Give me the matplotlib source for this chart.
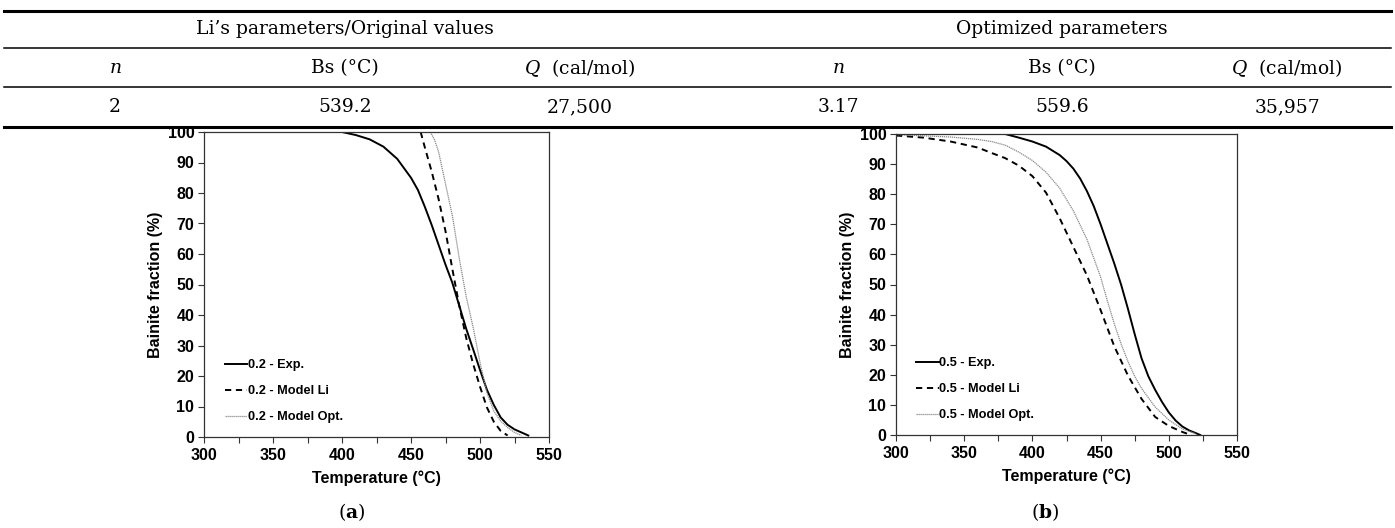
import matplotlib
matplotlib.use("Agg")
import matplotlib.pyplot as plt
from matplotlib.lines import Line2D

serif = "DejaVu Serif"
sans = "Liberation Sans"
plt.rcParams["mathtext.fontset"] = "custom"
plt.rcParams["mathtext.rm"] = serif
plt.rcParams["mathtext.it"] = serif + ":italic"
plt.rcParams["mathtext.bf"] = serif + ":bold"

# table values
col_heads = ["$n$", "Bs (°C)", "$Q$  (cal/mol)"]
li_vals = ["2", "539.2", "27,500"]
opt_vals = ["3.17", "559.6", "35,957"]

# (a) cooling rate 0.2
a_exp_T = [400, 410, 420, 430, 440, 450, 455, 460, 465, 470, 475, 480, 485, 490, 495, 500, 505, 510, 515, 520, 525, 530, 535]
a_exp_y = [100, 99, 97.6, 95.2, 91.2, 85, 81, 75.5, 69.5, 63, 56.5, 50.5, 43, 35.5, 28.8, 22, 15.5, 10.5, 6.4, 4, 2.5, 1.5, 0.5]
a_li_T = [457, 460, 465, 470, 475, 480, 485, 490, 495, 500, 505, 510, 515, 520]
a_li_y = [100, 95, 87, 78, 67.5, 55, 43, 32.5, 24, 16.5, 9.7, 5, 2, 0.5]
a_opt_T = [464, 467, 470, 475, 480, 485, 490, 495, 500, 505, 510, 515, 520, 525, 530]
a_opt_y = [100, 97.5, 93.5, 83, 72.5, 58.5, 46, 36, 24.5, 14.5, 8.5, 5.2, 3.1, 1.5, 0.5]

# (b) cooling rate 0.5
b_exp_T = [380, 390, 400, 410, 420, 425, 430, 435, 440, 445, 450, 455, 460, 465, 470, 475, 480, 485, 490, 495, 500, 505, 510, 515, 520, 523]
b_exp_y = [100, 98.8, 97.5, 95.8, 93, 91, 88.5, 85.2, 81, 76, 70, 63.5, 57, 50, 42, 33.5, 25.5, 19.5, 15, 11, 7.5, 4.8, 2.8, 1.5, 0.6, 0]
b_li_T = [300, 320, 340, 360, 370, 380, 390, 400, 410, 420, 430, 440, 450, 460, 470, 480, 490, 500, 510, 515]
b_li_y = [99.5, 98.8, 97.5, 95.5, 93.7, 92, 89.5, 86, 80.5, 72, 62.5, 53, 41.5, 29.5, 19.8, 12, 6, 3, 1, 0.2]
b_opt_T = [300, 320, 340, 360, 370, 380, 390, 400, 410, 420, 430, 440, 450, 455, 460, 465, 470, 475, 480, 490, 500, 510, 520]
b_opt_y = [99.8, 99.4, 99, 98.2, 97.5, 96.3, 94, 91.2, 87.3, 82, 74.5, 65, 52.5, 44.5, 37, 30.3, 24.5, 19.5, 15.5, 9.3, 5, 2, 0.4]

fig = plt.figure(figsize=(13.95, 5.28), dpi=100)
W, H = 1395.0, 528.0

def fy(py):
    return 1 - py / H

# table rules
for py, lw in [(11, 2.2), (48, 1.1), (87, 1.1), (127, 2.2)]:
    fig.add_artist(Line2D([4 / W, 1391 / W], [fy(py), fy(py)], color="black", lw=lw))

tsize = 13.5
fig.text(345 / W, fy(29), "Li\u2019s parameters/Original values", ha="center", va="center", family=serif, fontsize=tsize)
fig.text(1062 / W, fy(29), "Optimized parameters", ha="center", va="center", family=serif, fontsize=tsize)
left_x = [115, 345, 580]
right_x = [838, 1062, 1287]
for i in range(3):
    fig.text(left_x[i] / W, fy(68), col_heads[i], ha="center", va="center", family=serif, fontsize=tsize)
    fig.text(right_x[i] / W, fy(68), col_heads[i], ha="center", va="center", family=serif, fontsize=tsize)
    fig.text(left_x[i] / W, fy(107), li_vals[i], ha="center", va="center", family=serif, fontsize=tsize)
    fig.text(right_x[i] / W, fy(107), opt_vals[i], ha="center", va="center", family=serif, fontsize=tsize)


def panel(rect, data, rate):
    ax = fig.add_axes(rect)
    (eT, ey), (lT, ly), (oT, oy) = data
    ax.plot(eT, ey, color="black", lw=1.4, label=rate + " - Exp.")
    ax.plot(lT, ly, color="black", lw=1.4, ls=(0, (3.2, 2.4)), label=rate + " - Model Li")
    ax.plot(oT, oy, color="#8a8a8a", lw=0.9, ls=(0, (1, 0.6)), label=rate + " - Model Opt.")
    ax.set_xlim(300, 550)
    ax.set_ylim(0, 100)
    ax.set_xticks(range(300, 551, 50))
    ax.set_xticks(range(300, 551, 25), minor=True)
    ax.set_yticks(range(0, 101, 10))
    ax.tick_params(which="both", direction="out", length=4, width=0.8, color="#333333")
    ax.tick_params(axis="x", pad=4)
    ax.tick_params(axis="y", pad=3)
    for lab in ax.get_xticklabels() + ax.get_yticklabels():
        lab.set_fontfamily(sans)
        lab.set_fontweight("bold")
        lab.set_fontsize(11.5)
    for sp in ax.spines.values():
        sp.set_linewidth(0.9)
        sp.set_color("#333333")
    ax.set_xlabel("Temperature (°C)", family=sans, fontweight="bold", fontsize=11.5, labelpad=5)
    ax.set_ylabel("Bainite fraction (%)", family=sans, fontweight="bold", fontsize=11.5, labelpad=3)
    ax.legend(loc="lower left", bbox_to_anchor=(0.06, 0.045), frameon=False,
              prop={"family": sans, "weight": "bold", "size": 9.2},
              handlelength=1.75, handletextpad=0.05, labelspacing=1.1,
              borderaxespad=0, borderpad=0)
    return ax


panel([204 / W, fy(437), 345 / W, 305 / H], [(a_exp_T, a_exp_y), (a_li_T, a_li_y), (a_opt_T, a_opt_y)], "0.2")
panel([896 / W, fy(435), 341 / W, 301 / H], [(b_exp_T, b_exp_y), (b_li_T, b_li_y), (b_opt_T, b_opt_y)], "0.5")

fig.text(352 / W, fy(512), r"($\mathbf{a}$)", ha="center", va="center", family=serif, fontsize=tsize)
fig.text(1045 / W, fy(512), r"($\mathbf{b}$)", ha="center", va="center", family=serif, fontsize=tsize)

fig.savefig("out.png", dpi=100)
